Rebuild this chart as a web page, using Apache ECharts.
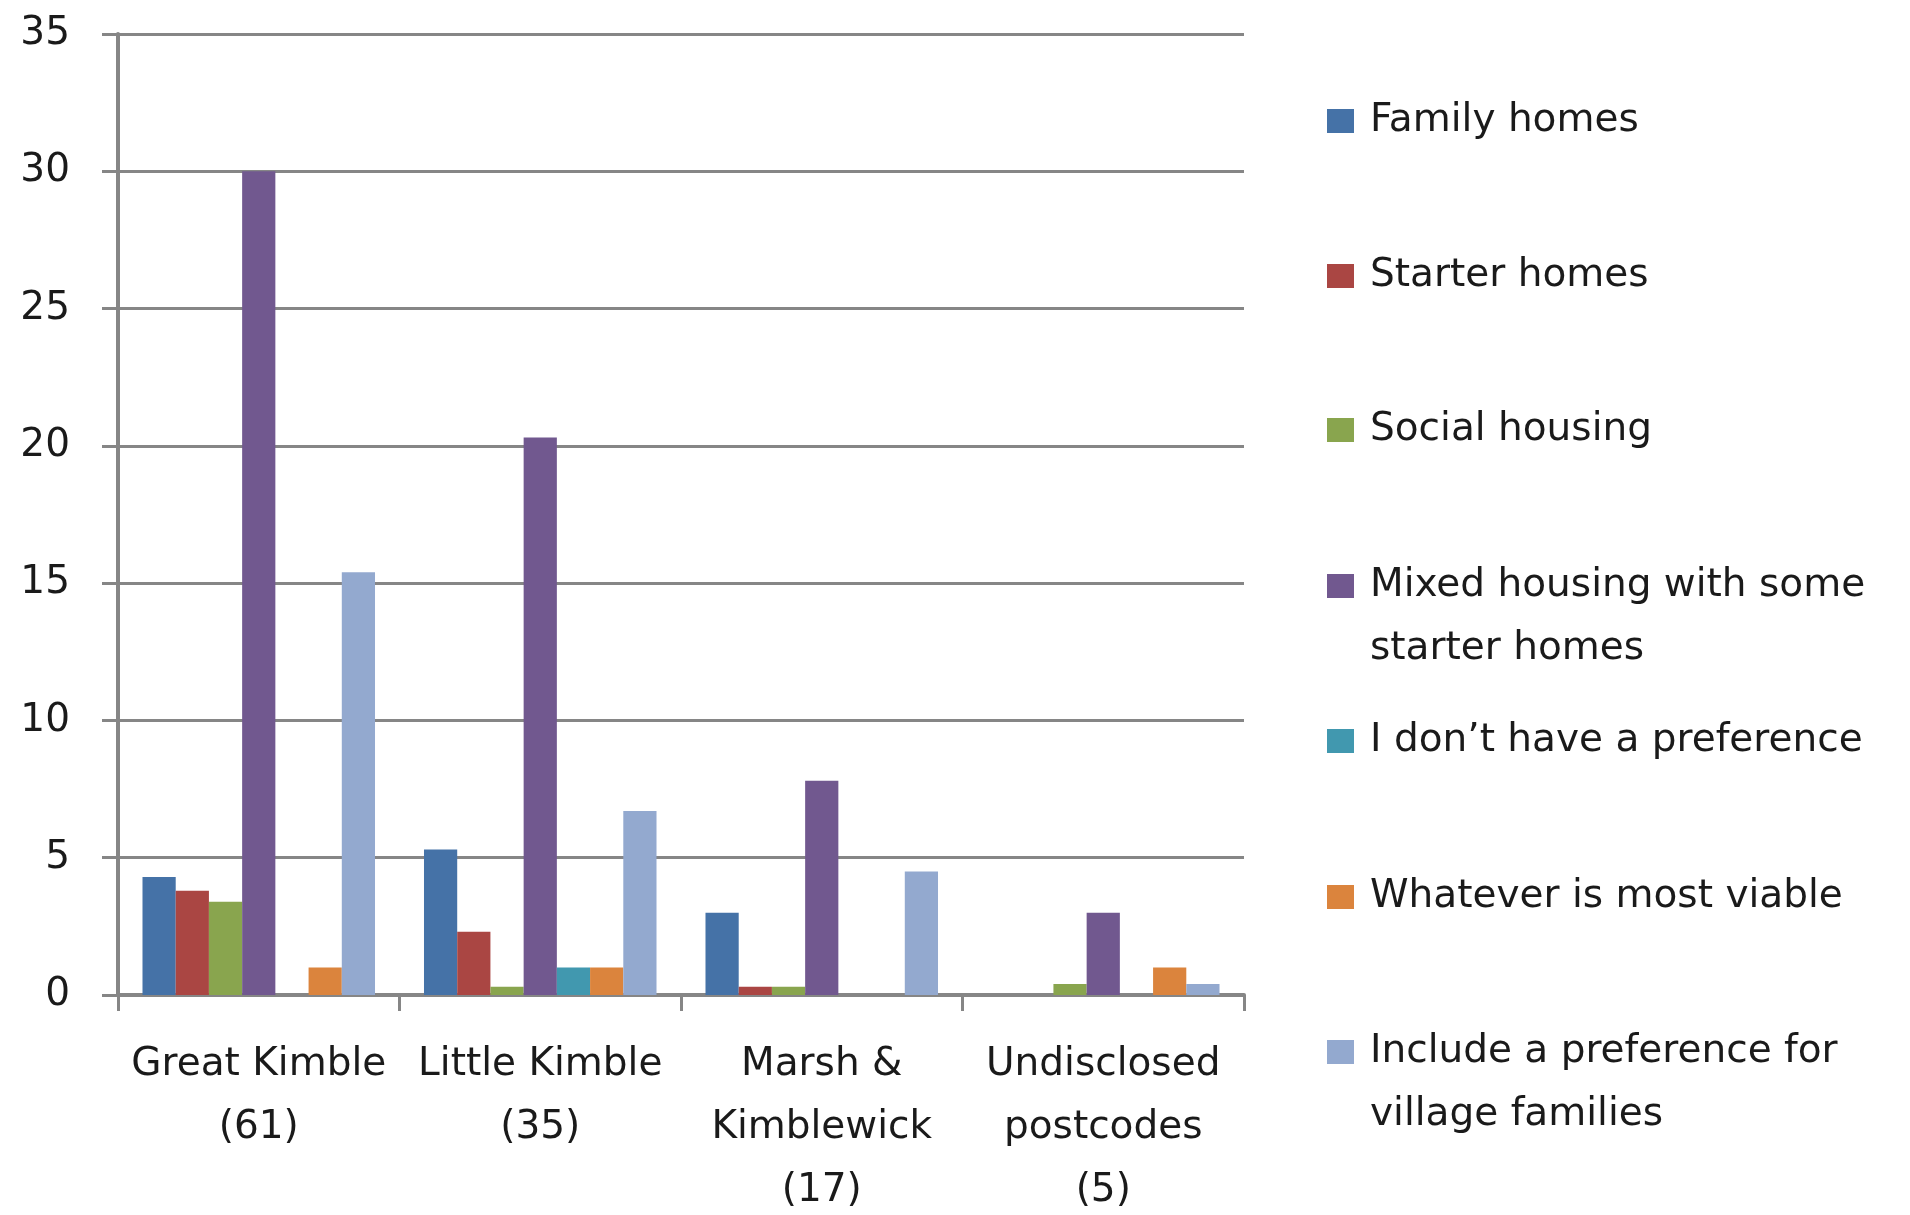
<!DOCTYPE html>
<html>
<head>
<meta charset="utf-8">
<script src="https://cdn.jsdelivr.net/npm/echarts@6/dist/echarts.min.js"></script>
<style>
html,body{margin:0;padding:0;background:#fff;}
#chart{width:1910px;height:1215px;}
</style>
</head>
<body>
<div id="chart"></div>
<script>
const categories = ['Great Kimble\n(61)', 'Little Kimble\n(35)', 'Marsh &\nKimblewick\n(17)', 'Undisclosed\npostcodes\n(5)'];
const seriesNames = ['Family homes', 'Starter homes', 'Social housing', 'Mixed housing with some starter homes', 'I don\u2019t have a preference', 'Whatever is most viable', 'Include a preference for village families'];
const legendLabels = ['Family homes', 'Starter homes', 'Social housing', 'Mixed housing with some\nstarter homes', 'I don\u2019t have a preference', 'Whatever is most viable', 'Include a preference for\nvillage families'];
const familyHomes = [4.3, 5.3, 3.0, 0];
const starterHomes = [3.8, 2.3, 0.3, 0];
const socialHousing = [3.4, 0.3, 0.3, 0.4];
const mixedHousing = [30, 20.3, 7.8, 3.0];
const noPreference = [0, 1, 0, 0];
const mostViable = [1, 1, 0, 1];
const villageFamilies = [15.4, 6.7, 4.5, 0.4];
const yTicks = [0, 5, 10, 15, 20, 25, 30, 35];

const seriesData = [familyHomes, starterHomes, socialHousing, mixedHousing, noPreference, mostViable, villageFamilies];
const colors = ['#4572A7', '#AA4643', '#89A54E', '#71588F', '#4198AF', '#DB843D', '#93A9CF'];
const FONT = '"DejaVu Sans", sans-serif';
const iconCenters = [121, 276, 430, 586, 741, 897, 1052];

const legends = seriesNames.map((name, i) => {
  const multi = legendLabels[i].indexOf('\n') >= 0;
  return {
    orient: 'vertical',
    left: 1327,
    top: multi ? iconCenters[i] - 94.5 : iconCenters[i] - 31.5,
    padding: 0,
    itemWidth: 27,
    itemHeight: 24,
    icon: 'rect',
    data: [name],
    formatter: () => (multi ? '\n' : '') + legendLabels[i],
    textStyle: {
      fontFamily: FONT,
      fontSize: 39,
      color: '#1a1a1a',
      lineHeight: 63,
      padding: [0, 0, 0, 11]
    }
  };
});

const chart = echarts.init(document.getElementById('chart'), null, {renderer: 'canvas'});
chart.setOption({
  animation: false,
  backgroundColor: '#ffffff',
  color: colors,
  legend: legends,
  grid: {left: 118, right: 666, top: 34, bottom: 220, containLabel: false, outerBoundsMode: 'none'},
  xAxis: {
    type: 'category',
    data: categories,
    axisLine: {show: true, lineStyle: {color: '#868686', width: 4}},
    axisTick: {show: true, length: 16, lineStyle: {color: '#868686', width: 3}},
    axisLabel: {
      interval: 0,
      margin: 38,
      fontFamily: FONT,
      fontSize: 39,
      lineHeight: 63,
      color: '#1a1a1a'
    }
  },
  yAxis: {
    type: 'value',
    min: yTicks[0],
    max: yTicks[yTicks.length - 1],
    interval: yTicks[1] - yTicks[0],
    axisLine: {show: true, lineStyle: {color: '#868686', width: 4}},
    axisTick: {show: true, length: 16, lineStyle: {color: '#868686', width: 3}},
    splitLine: {show: true, lineStyle: {color: '#868686', width: 3}},
    axisLabel: {
      margin: 48,
      fontFamily: FONT,
      fontSize: 39,
      color: '#1a1a1a'
    }
  },
  series: seriesNames.map((name, i) => ({
    name: name,
    type: 'bar',
    data: seriesData[i],
    barGap: '0%',
    barCategoryGap: '17.4%',
    itemStyle: {color: colors[i]}
  }))
});
</script>
</body>
</html>
